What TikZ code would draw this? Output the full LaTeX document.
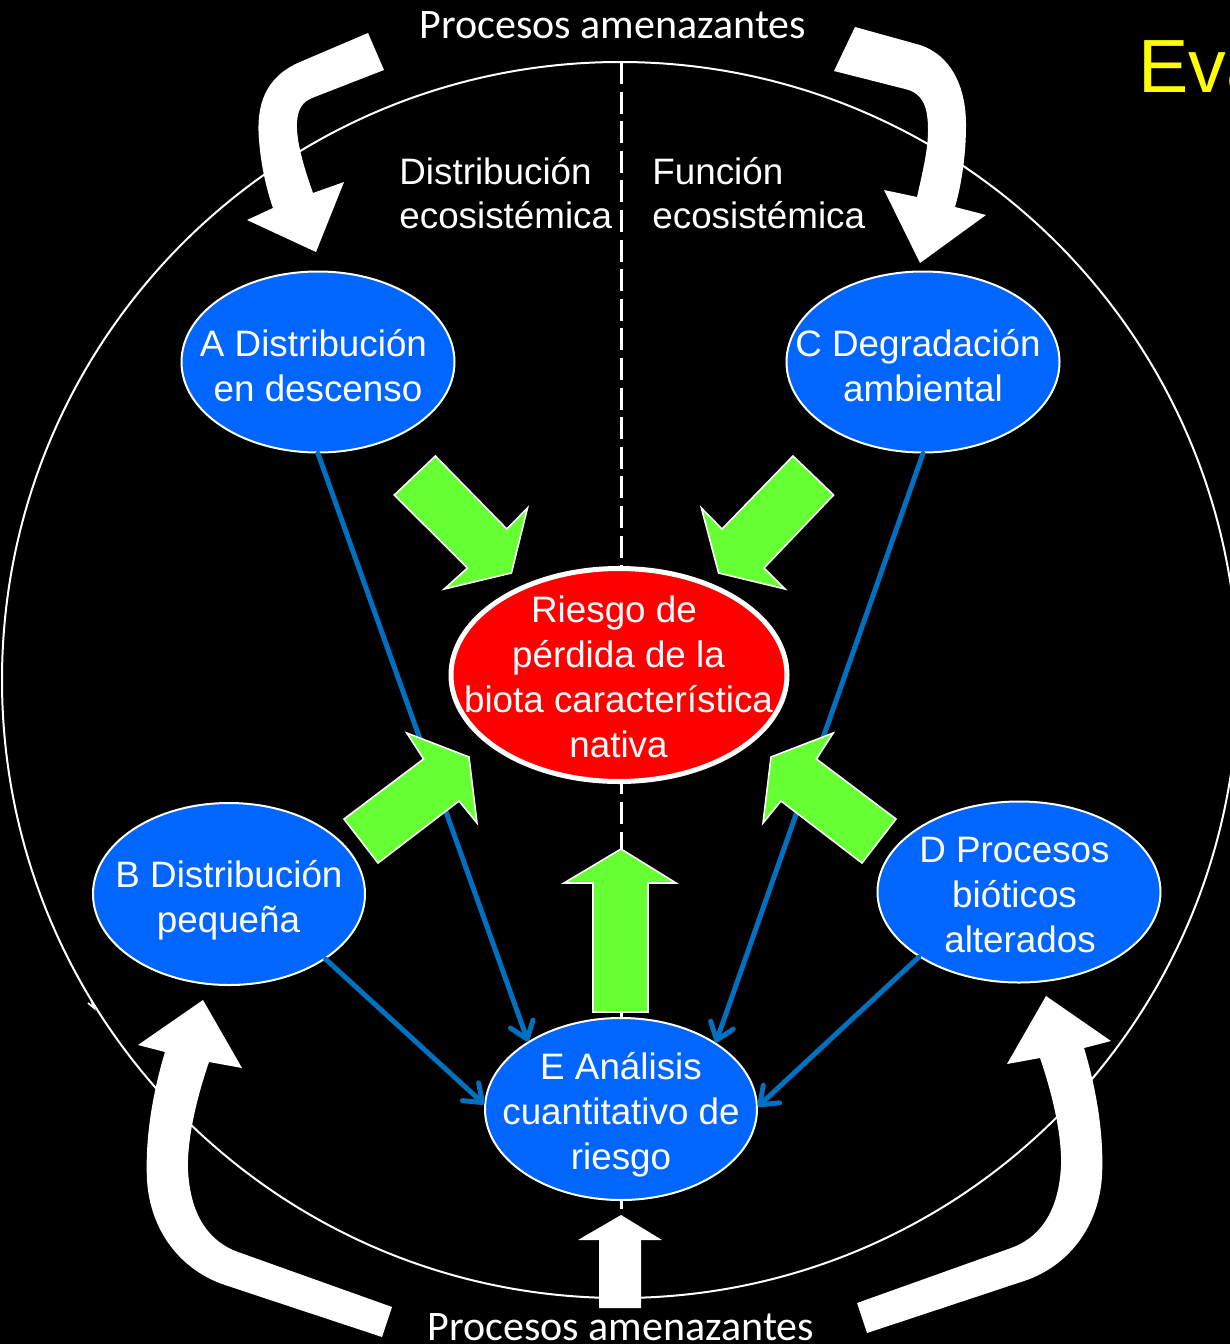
\documentclass[tikz,border=0pt]{standalone}
\usepackage{fontspec}
\setmainfont{Liberation Sans}
\newfontfamily\calibfont{Carlito}
\usetikzlibrary{arrows.meta,shapes.geometric}
\definecolor{nodeblue}{HTML}{0066FF}
\definecolor{linkblue}{HTML}{0070C0}
\definecolor{arrowgreen}{HTML}{66FF33}
\definecolor{riskred}{HTML}{FF0000}
\definecolor{titleyellow}{HTML}{FFFF00}
\begin{document}
\begin{tikzpicture}[x=0.5pt,y=-0.5pt,
  blob/.style={ellipse, draw=white, line width=1pt, fill=nodeblue, inner sep=0pt},
  riskblob/.style={ellipse, draw=white, line width=2.5pt, fill=riskred, inner sep=0pt},
  txt/.style={text=white, font=\fontsize{18.4}{22.5}\selectfont, inner sep=0pt, anchor=base},
  lbl/.style={text=white, font=\fontsize{18.4}{22.5}\selectfont, inner sep=0pt, anchor=base west},
  proc/.style={text=white, font=\calibfont\fontsize{21}{24}\selectfont, inner sep=0pt, anchor=base},
  link/.style={draw=linkblue, line width=2.5pt, line cap=round, -{Straight Barb[length=8pt,width=12pt,round]}},
  garrow/.style={fill=arrowgreen, draw=white, line width=0.8pt, line join=miter},
  warrow/.style={fill=white, draw=none}
]
\useasboundingbox (0,0) rectangle (1230,1344);
\fill[black] (0,0) rectangle (1230,1344);

% big circle
\draw[white, line width=1pt] (620,680) circle [x radius=618, y radius=618];
\draw[white, line width=0.8pt] (88,1003) -- (94,1008) -- (91,1000);

% dashed divider
\coordinate (dtop) at (621,62);
\coordinate (dbot) at (621,1300);
\draw[white, line width=1.5pt, dash pattern=on 11pt off 3.8pt] (dtop) -- (dbot);

% ellipses
\node[blob, minimum width=136.5pt, minimum height=90.5pt] (A) at (318,362) {};
\node[blob, minimum width=136.5pt, minimum height=90.5pt] (C) at (923,362) {};
\node[blob, minimum width=136pt, minimum height=91pt] (B) at (229,894) {};
\node[blob, minimum width=141.5pt, minimum height=90.5pt] (D) at (1019,892) {};
\node[blob, minimum width=136pt, minimum height=91pt] (E) at (621,1109) {};
\node[riskblob, minimum width=168pt, minimum height=106.5pt] (R) at (619,675) {};

% texts in ellipses
\node[txt] (a1) at (313.5,356) {A Distribución};
\node[txt] (a2) at (318,401) {en descenso};
\node[txt] (c1) at (918,356) {C Degradación};
\node[txt] (c2) at (923,401) {ambiental};
\node[txt] (b1) at (229,887) {B Distribución};
\node[txt] (b2) at (228.5,932) {pequeña};
\node[txt] (d1) at (1014.5,862) {D Procesos};
\node[txt] (d2) at (1014.5,907) {bióticos};
\node[txt] (d3) at (1020,952) {alterados};
\node[txt] (e1) at (621,1079) {E Análisis};
\node[txt] (e2) at (621,1124) {cuantitativo de};
\node[txt] (e3) at (621,1169) {riesgo};
\node[txt] (r1) at (614,622) {Riesgo de};
\node[txt] (r2) at (618.5,667) {pérdida de la};
\node[txt] (r3) at (618.5,712) {biota característica};
\node[txt] (r4) at (618.5,757) {nativa};

% side labels
\node[lbl] (l1) at (399,184) {Distribución};
\node[lbl] (l2) at (399,228) {ecosistémica};
\node[lbl] (f1) at (652,184) {Función};
\node[lbl] (f2) at (652,228) {ecosistémica};

% blue connectors
\draw[link] (A.south) -- (E.144);
\draw[link] (C.south) -- (E.35);
\draw[link] (B.-34) -- (E.178);
\draw[link] (D.213) -- (E.1);

% green arrows
\draw[garrow] (435.4,456) -- (506.8,529) -- (527.5,508) -- (511.4,573) -- (444.3,589) -- (467.5,568) -- (394.3,495) -- cycle;
\draw[garrow] (793,456) -- (722,529) -- (701.4,508) -- (718.6,573) -- (785,589) -- (764,568) -- (833.6,495) -- cycle;
\draw[garrow] (378,863) -- (459,801) -- (477,823) -- (469,757) -- (406.8,733) -- (423.6,759) -- (344,819) -- cycle;
\draw[garrow] (862,863) -- (781,801) -- (763,823) -- (771,757) -- (833.2,733) -- (816.4,759) -- (896,819) -- cycle;
\draw[garrow] (593,1012) -- (593,883) -- (564,883) -- (621,849) -- (676,883) -- (648,883) -- (648,1012) -- cycle;

% white arrows
\fill[warrow] (368,33) -- (300,62) .. controls (265,77) and (256,105) .. (259,140)
  .. controls (261,165) and (266,188) .. (273,208) -- (247,220) -- (316,252) -- (344,182) -- (313,193)
  .. controls (303,165) and (296,140) .. (297,122) .. controls (298,108) and (303,102) .. (312,98) -- (384,70) -- cycle;
\fill[warrow] (855,27) -- (920,45) .. controls (950,55) and (966,85) .. (966,125)
  .. controls (966,160) and (960,190) .. (955,207) -- (986,215) -- (920,263) -- (884,190) -- (917,197)
  .. controls (923,170) and (928,150) .. (928,130) .. controls (928,105) and (922,93) .. (905,89) -- (834,71) -- cycle;
\fill[warrow] (382,1337) -- (225,1285) .. controls (180,1270) and (150,1230) .. (147,1180)
  .. controls (145,1140) and (152,1095) .. (165,1052) -- (138,1045) -- (203,1000) -- (242,1068) -- (209,1062)
  .. controls (196,1100) and (187,1140) .. (188,1170) .. controls (190,1210) and (205,1240) .. (238,1252) -- (392,1307) -- cycle;
\fill[warrow] (867,1333) -- (1024,1281) .. controls (1069,1266) and (1099,1226) .. (1102,1176)
  .. controls (1104,1136) and (1097,1091) .. (1084,1048) -- (1111,1041) -- (1046,996) -- (1007,1064) -- (1040,1058)
  .. controls (1053,1096) and (1062,1136) .. (1061,1166) .. controls (1059,1206) and (1044,1236) .. (1011,1248) -- (857,1303) -- cycle;
\fill[warrow] (599,1308) -- (599,1240) -- (578,1240) -- (621,1215) -- (662,1240) -- (641,1240) -- (641,1308) -- cycle;

% process labels and title
\node[proc] (ptop) at (613,38) {Procesos amenazantes};
\node[proc] (pbot) at (621,1340) {Procesos amenazantes};
\node[anchor=base west, text=titleyellow, font=\fontsize{37.7}{40}\selectfont, inner sep=0pt] (eva) at (1138,92) {Eva};
\end{tikzpicture}
\end{document}
